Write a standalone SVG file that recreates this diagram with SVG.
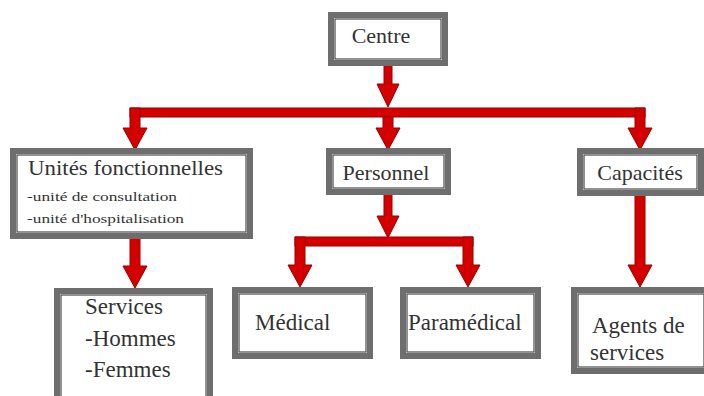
<svg xmlns="http://www.w3.org/2000/svg" width="704" height="396" viewBox="0 0 704 396">
<style>
.box{fill:#fff;stroke:#6e6e6e;stroke-width:6}
.inner{fill:none;stroke:#4a4a4a;stroke-width:1.2}
text{font-family:'Liberation Serif','DejaVu Serif',serif;fill:#333}
.big{font-size:22px}
.big2{font-size:23px}
.small{font-size:13px}
.red{fill:#d40000;stroke:#9a0000;stroke-width:1}
</style>
<rect width="704" height="396" fill="#fff"/>
<g id="connectors">
<polygon class="red" points="384,65 392,65 392,84 399,84 388,107 377,84 384,84"/>
<rect class="red" x="130" y="108" width="515" height="9"/>
<polygon class="red" points="130,108 140,108 140,128 147,128 135,150 123,128 130,128"/>
<polygon class="red" points="383,117 393,117 393,128 400,128 388,150 376,128 383,128"/>
<polygon class="red" points="635,108 645,108 645,128 652,128 640,150 628,128 635,128"/>
<polygon class="red" points="130,238 140,238 140,266 147,266 135,288 123,266 130,266"/>
<polygon class="red" points="384,194 392,194 392,216 399,216 388,238 377,216 384,216"/>
<rect class="red" x="295" y="237" width="178" height="9"/>
<polygon class="red" points="295,237 305,237 305,265 312,265 300,287 288,265 295,265"/>
<polygon class="red" points="463,237 473,237 473,265 480,265 468,287 456,265 463,265"/>
<polygon class="red" points="635,195 645,195 645,265 652,265 640,287 628,265 635,265"/>
</g>
<g id="centre">
<rect class="box" x="331" y="15" width="114" height="48"/>
<rect class="inner" x="335" y="19" width="106" height="40"/>
<text class="big" x="381" y="43" text-anchor="middle">Centre</text>
</g>
<g id="unites">
<rect class="box" x="13" y="151" width="237" height="85"/>
<rect class="inner" x="17" y="155" width="229" height="77"/>
<text class="big" x="28" y="175" textLength="195" lengthAdjust="spacingAndGlyphs">Unités fonctionnelles</text>
<text class="small" x="27" y="201" textLength="150" lengthAdjust="spacingAndGlyphs">-unité de consultation</text>
<text class="small" x="27" y="223" textLength="157" lengthAdjust="spacingAndGlyphs">-unité d'hospitalisation</text>
</g>
<g id="personnel">
<rect class="box" x="329" y="151" width="119" height="41"/>
<rect class="inner" x="333" y="155" width="111" height="33"/>
<text class="big" x="386" y="180" text-anchor="middle">Personnel</text>
</g>
<g id="capacites">
<rect class="box" x="580" y="151" width="121" height="42"/>
<rect class="inner" x="584" y="155" width="113" height="34"/>
<text class="big" x="640" y="180" text-anchor="middle">Capacités</text>
</g>
<g id="services">
<rect class="box" x="57" y="291" width="153" height="112"/>
<rect class="inner" x="61" y="295" width="145" height="104"/>
<text class="big2" x="85" y="314">Services</text>
<text class="big2" x="85" y="346">-Hommes</text>
<text class="big2" x="85" y="377">-Femmes</text>
</g>
<g id="medical">
<rect class="box" x="235" y="290" width="135" height="66"/>
<rect class="inner" x="239" y="294" width="127" height="58"/>
<text class="big2" x="255" y="330">Médical</text>
</g>
<g id="paramedical">
<rect class="box" x="403" y="290" width="135" height="66"/>
<rect class="inner" x="407" y="294" width="127" height="58"/>
<text class="big2" x="408" y="330">Paramédical</text>
</g>
<g id="agents">
<rect class="box" x="574" y="290" width="134" height="81"/>
<rect class="inner" x="578" y="294" width="126" height="73"/>
<text class="big2" x="592" y="333">Agents de</text>
<text class="big2" x="590" y="360">services</text>
</g>
</svg>
